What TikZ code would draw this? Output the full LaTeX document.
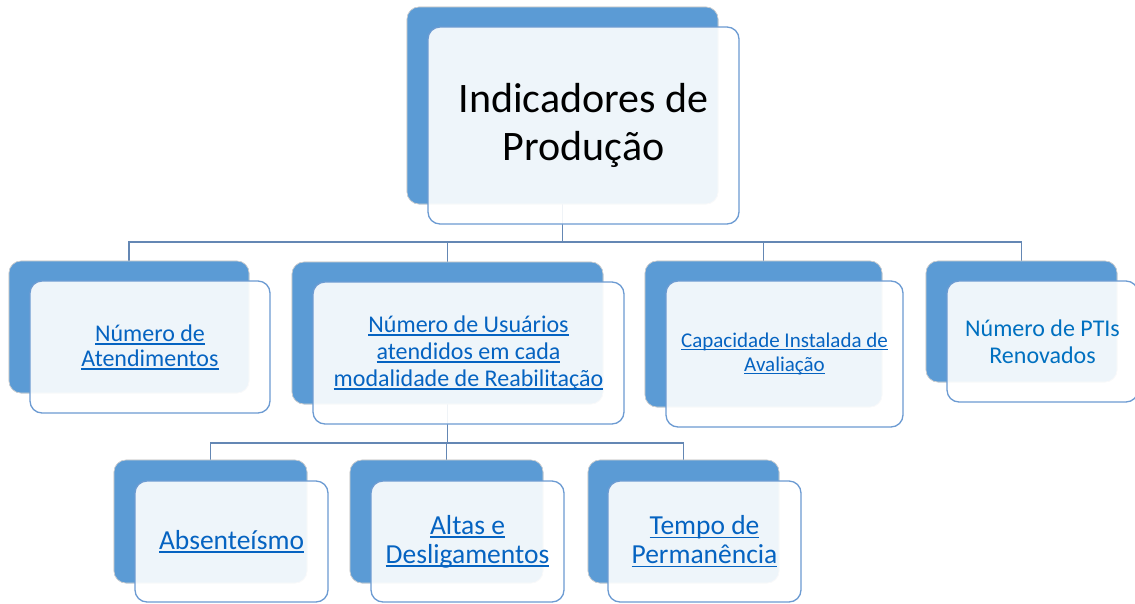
\documentclass[tikz,border=0pt]{standalone}
\usepackage{fontspec}
\setmainfont{Carlito}
\definecolor{backblue}{RGB}{91,155,213}
\definecolor{frontline}{RGB}{108,155,210}
\definecolor{connline}{RGB}{100,135,180}
\definecolor{linkblue}{RGB}{5,99,193}
\definecolor{plainblue}{RGB}{0,112,192}
\newcommand\ulx[1]{\setbox0=\hbox{#1}\rlap{\rule[-0.14em]{\wd0}{0.065em}}\box0}
\tikzset{
  backbox/.style={draw=black!18, line width=0.6pt, fill=backblue, rounded corners=12pt, inner sep=0pt},
  frontbox/.style={draw=frontline, line width=1.3pt, fill=white, fill opacity=0.9, rounded corners=12pt, inner sep=0pt},
  conn/.style={draw=connline, line width=1.3pt},
  lbl/.style={align=center, inner sep=0pt},
}
% #1 name, #2 cx, #3 cy, #4 width, #5 height
\newcommand\smbox[5]{%
  \node[backbox, minimum width=#4pt, minimum height=#5pt] (#1b) at (#2,#3) {};
}
\newcommand\smfront[5]{%
  \node[frontbox, minimum width=#4pt, minimum height=#5pt] (#1f) at ({#2+21},{#3+20}) {};
}
\begin{document}
\begin{tikzpicture}[x=1pt,y=-1pt]
\useasboundingbox (0,0) rectangle (1135,603);
\fill[white] (0,0) rectangle (1135,603);
% back boxes
\smbox{top}{562.5}{105.5}{311}{197}
\smbox{na}{129}{327}{240}{132}
\smbox{nb}{447.5}{333}{311}{142}
\smbox{nc}{763.5}{334}{237}{146}
\smbox{nd}{1021.5}{321.5}{191}{121}
\smbox{ra}{210.5}{521.5}{193}{123}
\smbox{rb}{446.5}{521.5}{193}{123}
\smbox{rc}{683.5}{521.5}{191}{123}
% bus coordinates
\coordinate (bus1) at (563,242);
\coordinate (bus2) at (447,443);
% connectors
\draw[conn] (topb.south) -- (topb.south |- bus1) -| (nab.north);
\draw[conn] (topb.south |- bus1) -| (nbb.north);
\draw[conn] (topb.south |- bus1) -| (ncb.north);
\draw[conn] (topb.south |- bus1) -| (ndb.north);
\draw[conn] (nbb.south) -- (nbb.south |- bus2) -| (rab.north);
\draw[conn] (nbb.south |- bus2) -| (rbb.north);
\draw[conn] (nbb.south |- bus2) -| (rcb.north);
% redraw back boxes on top of connectors
\smbox{top}{562.5}{105.5}{311}{197}
\smbox{na}{129}{327}{240}{132}
\smbox{nb}{447.5}{333}{311}{142}
\smbox{nc}{763.5}{334}{237}{146}
\smbox{nd}{1021.5}{321.5}{191}{121}
\smbox{ra}{210.5}{521.5}{193}{123}
\smbox{rb}{446.5}{521.5}{193}{123}
\smbox{rc}{683.5}{521.5}{191}{123}
% front boxes
\smfront{top}{562.5}{105.5}{311}{197}
\smfront{na}{129}{327}{240}{132}
\smfront{nb}{447.5}{333}{311}{142}
\smfront{nc}{763.5}{334}{237}{146}
\smfront{nd}{1021.5}{321.5}{191}{121}
\smfront{ra}{210.5}{521.5}{193}{121}
\smfront{rb}{446.5}{521.5}{193}{121}
\smfront{rc}{683.5}{521.5}{193}{121}
% labels
\node[lbl, font=\fontsize{42}{48}\selectfont, text=black] (toptxt) at (topf.center) {Indicadores de\\Produção};
\node[lbl, font=\fontsize{24}{25}\selectfont, text=linkblue] (natxt) at (naf.center) {\ulx{Número de}\\\ulx{Atendimentos}};
\node[lbl, font=\fontsize{24}{27}\selectfont, text=linkblue] (nbtxt) at (nbf.center) {\ulx{Número de Usuários}\\\ulx{atendidos em cada}\\\ulx{modalidade de Reabilitação}};
\node[lbl, font=\fontsize{21}{24}\selectfont, text=linkblue] (nctxt) at (ncf.center) {\ulx{Capacidade Instalada de}\\\ulx{Avaliação}};
\node[lbl, font=\fontsize{24}{27}\selectfont, text=plainblue] (ndtxt) at (ndf.center) {Número de PTIs\\Renovados};
\node[lbl, font=\fontsize{27.5}{29}\selectfont, text=linkblue] (ratxt) at (raf.center) {\ulx{Absenteísmo}};
\node[lbl, font=\fontsize{27.5}{29}\selectfont, text=linkblue] (rbtxt) at (rbf.center) {\ulx{Altas e}\\\ulx{Desligamentos}};
\node[lbl, font=\fontsize{27.5}{29}\selectfont, text=linkblue] (rctxt) at (rcf.center) {\ulx{Tempo de}\\\ulx{Permanência}};
\end{tikzpicture}
\end{document}
